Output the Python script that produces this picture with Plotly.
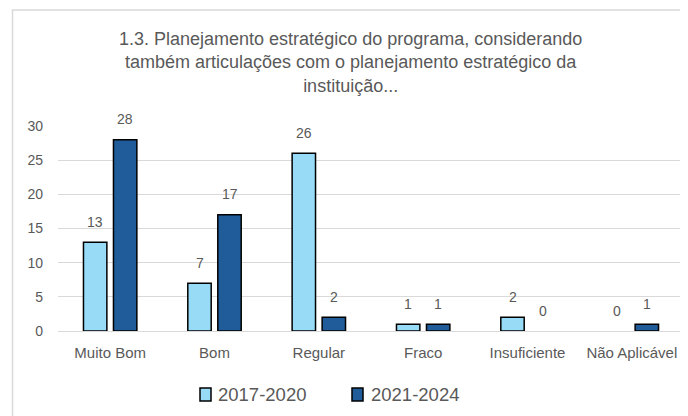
import plotly.graph_objects as go

categories = ["Muito Bom", "Bom", "Regular", "Fraco", "Insuficiente", "Não Aplicável"]
series_2017 = [13, 7, 26, 1, 2, 0]
series_2021 = [28, 17, 2, 1, 0, 1]
series_names = ["2017-2020", "2021-2024"]
series_colors = ["#97DBF7", "#1F5C99"]
y_ticks = [0, 5, 10, 15, 20, 25, 30]
title_lines = [
    "1.3. Planejamento estratégico do programa, considerando",
    "também articulações com o planejamento estratégico da",
    "instituição...",
]

OFF = 8  # page body margin
W, H = 680, 408
L, R, T, B = 50, 4, 118, 85
pw, ph = W - L - R, H - T - B


def px(x):  # page x -> paper
    return (x - OFF - L) / pw


def py(y):  # page y -> paper
    return (H - B - (y - OFF)) / ph


grey = "#595959"
sans = "Liberation Sans, Arial, sans-serif"

fig = go.Figure()
all_series = [series_2017, series_2021]
for i, vals in enumerate(all_series):
    fig.add_trace(go.Bar(
        x=categories, y=vals, name=series_names[i],
        marker=dict(color=series_colors[i],
                    line=dict(color="#000000", width=[1.5 if v > 0 else 0 for v in vals])),
        showlegend=False,
    ))

# data labels
shifts = [-15, 15]
for i, vals in enumerate(all_series):
    for c, v in zip(categories, vals):
        fig.add_annotation(x=c, y=v, text=str(v), xref="x", yref="y", showarrow=False,
                           xanchor="center", yanchor="bottom", xshift=shifts[i], yshift=10.5,
                           font=dict(family=sans, size=14, color=grey))

# title
fig.add_annotation(
    text="<br>".join(title_lines), xref="paper", yref="paper",
    x=px(350), y=py(27), xanchor="center", yanchor="top", showarrow=False,
    font=dict(family=sans, size=18, color=grey), align="center",
)

# chart border
fig.add_shape(type="rect", xref="paper", yref="paper",
              x0=px(12.5), x1=px(720), y0=py(10), y1=py(440),
              line=dict(color="#d9d9d9", width=1.5), fillcolor="rgba(0,0,0,0)", layer="below")

# custom legend
leg_sq = [(200, 211), (352, 363)]
leg_tx = [216, 369]
for i, name in enumerate(series_names):
    fig.add_shape(type="rect", xref="paper", yref="paper",
                  x0=px(leg_sq[i][0]), x1=px(leg_sq[i][1]), y0=py(388), y1=py(401),
                  line=dict(color="#000000", width=1.5), fillcolor=series_colors[i])
    fig.add_annotation(text=name, xref="paper", yref="paper", x=px(leg_tx[i]), y=py(394.5),
                       xanchor="left", yanchor="middle", showarrow=False,
                       font=dict(family=sans, size=18.5, color=grey))

fig.update_layout(
    width=W, height=H,
    margin=dict(l=L, r=R, t=T, b=B, pad=0),
    paper_bgcolor="white", plot_bgcolor="white",
    barmode="group", bargap=0.425, bargroupgap=0.22,
    showlegend=False,
    xaxis=dict(tickfont=dict(family=sans, size=15, color=grey), showgrid=False,
               showline=True, linecolor="#d9d9d9", linewidth=1, ticks="", ticklabelstandoff=8),
    yaxis=dict(range=[0, 30], tickvals=y_ticks, tickfont=dict(family=sans, size=14, color=grey),
               showgrid=True, gridcolor="#d9d9d9", gridwidth=1, zeroline=False,
               showline=False, ticks="", ticklabelstandoff=14),
)

fig.write_html("out.html")
